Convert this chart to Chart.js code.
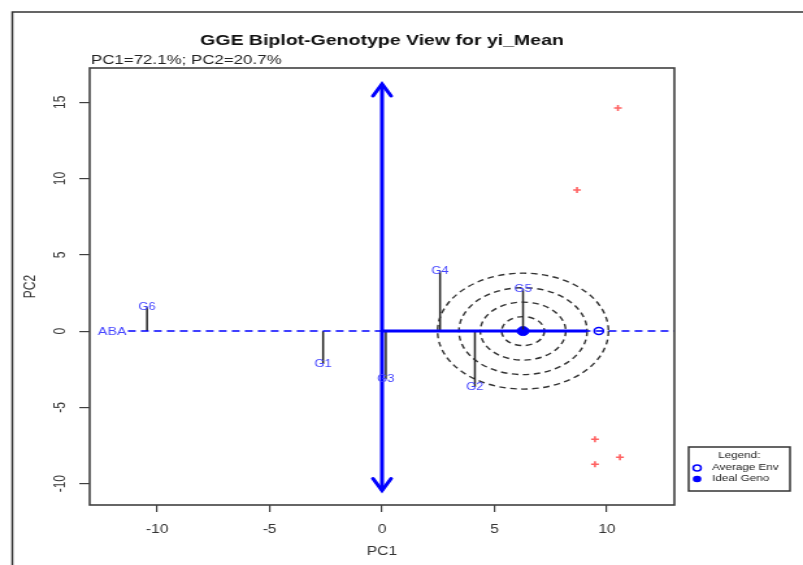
<!DOCTYPE html>
<html>
<head>
<meta charset="utf-8">
<script src="https://cdn.jsdelivr.net/npm/chart.js@4/dist/chart.umd.min.js"></script>
<style>
  html, body { margin: 0; padding: 0; background: #ffffff; overflow: hidden; }
  #c { display: block; width: 803px !important; height: 565px !important; }
</style>
</head>
<body>
<canvas id="c" width="618" height="565" style="width:803px;height:565px"></canvas>
<script>
// ---------------- data ----------------
const chartTitle = 'GGE Biplot-Genotype View for yi_Mean';
const chartSubtitle = 'PC1=72.1%; PC2=20.7%';
const xTitle = 'PC1';
const yTitle = 'PC2';

const genotypes = ['G1', 'G2', 'G3', 'G4', 'G5', 'G6'];
const genoPC1 = [-2.62, 4.13, 0.17, 2.58, 6.27, -10.45];
const genoPC2 = [-2.15, -3.67, -3.15, 3.94, 2.76, 1.57];

const extraLabels = ['ABA'];
const extraPC1 = [-12.0];
const extraPC2 = [0.0];

const envPC1 = [10.49, 8.67, 9.47, 10.58, 9.47];
const envPC2 = [14.63, 9.25, -7.09, -8.27, -8.73];

const idealGeno = [6.27, 0];
const averageEnv = [9.64, 0];
const atcEnd = 9.1;
const dashedAxisStart = -11.3;
const pc2Axis = [-10.45, 16.2];
const circleRadii = [0.95, 1.9, 2.85, 3.8];

const xTicks = [-10, -5, 0, 5, 10];
const yTicks = [-10, -5, 0, 5, 10, 15];
const xRange = [-13, 13];
const yRange = [-11.4, 17.25];

const legendTitle = 'Legend:';
const legendItems = ['Average Env', 'Ideal Geno'];

// ---------------- styles ----------------
const FONT = "'Liberation Sans', Arial, Helvetica, sans-serif";
const BLUE = '#0000ff';
const LABEL_BLUE = '#4646ff';
const AXIS_COL = '#404040';

// ---------------- datasets ----------------
const datasets = [];

datasets.push({
  label: 'avg-env-axis',
  data: [{x: dashedAxisStart, y: 0}, {x: xRange[1], y: 0}],
  showLine: true, borderColor: BLUE, borderWidth: 1.5, borderDash: [6, 4],
  pointRadius: 0
});

datasets.push({
  label: 'atc',
  data: [{x: 0, y: 0}, {x: atcEnd, y: 0}],
  showLine: true, borderColor: BLUE, borderWidth: 3, pointRadius: 0
});

datasets.push({
  label: 'pc2-arrow',
  data: [{x: 0, y: pc2Axis[0]}, {x: 0, y: pc2Axis[1]}],
  showLine: true, borderColor: BLUE, borderWidth: 3, pointRadius: 0
});

genotypes.forEach((g, i) => {
  datasets.push({
    label: 'proj-' + g,
    data: [{x: genoPC1[i], y: genoPC2[i]}, {x: genoPC1[i], y: 0}],
    showLine: true, borderColor: '#222222', borderWidth: 1.5, pointRadius: 0
  });
});

datasets.push({
  label: 'env',
  data: envPC1.map((v, i) => ({x: v, y: envPC2[i]})),
  showLine: false, pointStyle: 'cross', pointRadius: 3,
  borderColor: 'rgba(255,70,70,0.85)', borderWidth: 1.6
});

datasets.push({
  label: 'ideal',
  data: [{x: idealGeno[0], y: idealGeno[1]}],
  showLine: false, pointStyle: 'circle', pointRadius: 4.5,
  backgroundColor: BLUE, borderColor: BLUE, borderWidth: 1
});

datasets.push({
  label: 'average-env',
  data: [{x: averageEnv[0], y: averageEnv[1]}],
  showLine: false, pointStyle: 'circle', pointRadius: 3.5,
  backgroundColor: 'rgba(0,0,0,0)', borderColor: BLUE, borderWidth: 1.5
});

// ---------------- plugins ----------------
const decor = {
  id: 'decor',
  beforeDatasetsDraw(chart) {
    const {ctx, scales: {x, y}} = chart;
    const cx = x.getPixelForValue(idealGeno[0]);
    const cy = y.getPixelForValue(idealGeno[1]);
    ctx.save();
    ctx.strokeStyle = '#333333';
    ctx.lineWidth = 1.4;
    ctx.setLineDash([5, 3.5]);
    circleRadii.forEach(r => {
      const rx = Math.abs(x.getPixelForValue(idealGeno[0] + r) - cx);
      const ry = Math.abs(y.getPixelForValue(idealGeno[1] + r) - cy);
      ctx.beginPath();
      ctx.ellipse(cx, cy, rx, ry, 0, 0, Math.PI * 2);
      ctx.stroke();
    });
    ctx.restore();
  },
  afterDraw(chart) {
    const {ctx, chartArea: a, scales: {x, y}, width, height} = chart;
    ctx.save();

    // outer frame
    ctx.strokeStyle = '#333333';
    ctx.lineWidth = 1.5;
    ctx.beginPath();
    ctx.moveTo(9.5, height);
    ctx.lineTo(9.5, 12);
    ctx.lineTo(width, 12);
    ctx.stroke();

    // plot box
    ctx.strokeStyle = AXIS_COL;
    ctx.lineWidth = 1.6;
    ctx.strokeRect(a.left, a.top, a.right - a.left, a.bottom - a.top);

    // arrowheads on PC2 axis
    const ax = x.getPixelForValue(0);
    const yTop = y.getPixelForValue(pc2Axis[1]);
    const yBot = y.getPixelForValue(pc2Axis[0]);
    ctx.strokeStyle = BLUE;
    ctx.lineWidth = 3;
    ctx.lineCap = 'round';
    ctx.beginPath();
    ctx.moveTo(ax - 7, yTop + 12); ctx.lineTo(ax, yTop); ctx.lineTo(ax + 7, yTop + 12);
    ctx.moveTo(ax - 7, yBot - 12); ctx.lineTo(ax, yBot); ctx.lineTo(ax + 7, yBot - 12);
    ctx.stroke();

    // genotype labels
    ctx.fillStyle = LABEL_BLUE;
    ctx.font = '10px ' + FONT;
    ctx.textAlign = 'center';
    ctx.textBaseline = 'middle';
    genotypes.forEach((g, i) => {
      ctx.fillText(g, x.getPixelForValue(genoPC1[i]), y.getPixelForValue(genoPC2[i]));
    });
    ctx.font = '11px ' + FONT;
    extraLabels.forEach((g, i) => {
      ctx.fillText(g, x.getPixelForValue(extraPC1[i]), y.getPixelForValue(extraPC2[i]) + 1);
    });

    // title & subtitle
    ctx.fillStyle = '#111111';
    ctx.font = 'bold 15px ' + FONT;
    ctx.textAlign = 'center';
    ctx.fillText(chartTitle, (a.left + a.right) / 2, 41);
    ctx.font = '13px ' + FONT;
    ctx.textAlign = 'left';
    ctx.fillStyle = '#222222';
    ctx.fillText(chartSubtitle, a.left + 1, 60);

    // legend
    const lx = 530, ly = 447, lw = 78, lh = 44;
    ctx.strokeStyle = '#333333';
    ctx.lineWidth = 1.5;
    ctx.strokeRect(lx, ly, lw, lh);
    ctx.font = '9px ' + FONT;
    ctx.fillStyle = '#222222';
    ctx.textAlign = 'center';
    ctx.fillText(legendTitle, lx + lw / 2, ly + 9);
    ctx.textAlign = 'left';
    ctx.fillText(legendItems[0], lx + 18, ly + 21);
    ctx.fillText(legendItems[1], lx + 18, ly + 32);
    ctx.strokeStyle = BLUE;
    ctx.lineWidth = 1.5;
    ctx.beginPath(); ctx.arc(lx + 6.5, ly + 21, 3, 0, Math.PI * 2); ctx.stroke();
    ctx.fillStyle = BLUE;
    ctx.beginPath(); ctx.arc(lx + 6.5, ly + 32, 3.3, 0, Math.PI * 2); ctx.fill();

    ctx.restore();
  }
};

// ---------------- chart ----------------
new Chart(document.getElementById('c'), {
  type: 'scatter',
  data: { datasets },
  options: {
    responsive: false,
    animation: false,
    devicePixelRatio: 1,
    layout: { padding: { left: 9, right: 99, top: 68, bottom: 0 } },
    plugins: { legend: { display: false }, tooltip: { enabled: false }, title: { display: false } },
    scales: {
      x: {
        type: 'linear', min: xRange[0], max: xRange[1],
        afterBuildTicks: s => { s.ticks = xTicks.map(v => ({ value: v })); },
        afterFit: s => { s.height = 60; },
        grid: { drawOnChartArea: false, drawTicks: true, tickLength: 7, color: AXIS_COL, lineWidth: 1.2 },
        border: { display: false },
        ticks: { autoSkip: false, maxRotation: 0, padding: 10, color: '#333333', font: { size: 12, family: FONT } },
        title: { display: true, text: xTitle, color: '#333333', font: { size: 12, family: FONT }, padding: { top: 0, bottom: 6 } }
      },
      y: {
        type: 'linear', min: yRange[0], max: yRange[1],
        afterBuildTicks: s => { s.ticks = yTicks.map(v => ({ value: v })); },
        afterFit: s => { s.width = 60; },
        grid: { drawOnChartArea: false, drawTicks: true, tickLength: 8, color: AXIS_COL, lineWidth: 1.2 },
        border: { display: false },
        ticks: { autoSkip: false, minRotation: 90, maxRotation: 90, crossAlign: 'center', padding: 6, color: '#333333', font: { size: 12, family: FONT } },
        title: { display: true, text: yTitle, color: '#333333', font: { size: 12, family: FONT }, padding: { top: 7, bottom: 0 } }
      }
    }
  },
  plugins: [decor]
});
</script>
</body>
</html>
